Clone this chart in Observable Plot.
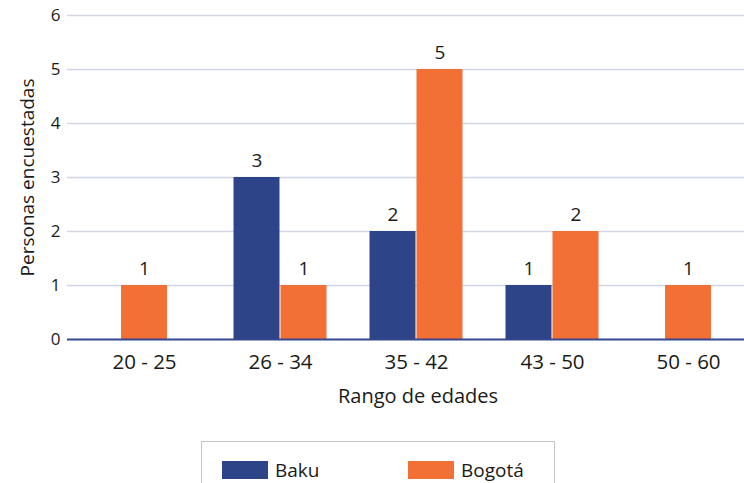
<!DOCTYPE html>
<html><head><meta charset="utf-8">
<script src="https://cdn.jsdelivr.net/npm/d3@7"></script>
<script src="https://cdn.jsdelivr.net/npm/@observablehq/plot@0.6"></script>
<style>
body{margin:0;background:#fff;font-family:"Open Sans",sans-serif;}
#chart{position:relative;width:744px;height:483px;overflow:hidden;}
#chart svg{display:block;}
.legend{position:absolute;left:201px;top:441px;width:354px;height:70px;border:1px solid #c4c4c4;box-sizing:border-box;}
.item{position:absolute;top:15px;display:flex;align-items:center;font-size:19px;color:#1a1a1a;}
.sw{width:46px;height:18px;margin-right:7px;}
</style>
</head><body>
<div id="chart"></div>
<script>
const ages = ["20 - 25", "26 - 34", "35 - 42", "43 - 50", "50 - 60"];
const series = ["Baku", "Bogotá"];
const bakuValues = [null, 3, 2, 1, null];
const bogotaValues = [1, 1, 5, 2, 1];
const colors = ["#2e4489", "#f26f35"];
const yTicks = [0, 1, 2, 3, 4, 5, 6];
const xTitle = "Rango de edades";
const yTitle = "Personas encuestadas";

const rows = [];
ages.forEach((age, i) => {
  const vals = [bakuValues[i], bogotaValues[i]];
  const present = vals.filter(v => v != null && v > 0).length;
  vals.forEach((v, j) => {
    if (v != null && v > 0) rows.push({age, series: series[j], value: v, solo: present === 1});
  });
});
const groupedBaku = rows.filter(d => !d.solo && d.series === "Baku");
const groupedBog = rows.filter(d => !d.solo && d.series === "Bogotá");
const solo = rows.filter(d => d.solo);

const W = 744, H = 441;
const xRange = [76, 756];
const step = (xRange[1] - xRange[0]) / ages.length;
const half = step / 2;
const bw = 46;

const fill = d => d.series;
const common = {x: "age", y: "value", fill};
const tstyle = {x: "age", y: "value", text: d => String(d.value), dy: -17, fontSize: 19, fill: "#1a1a1a"};

const chart = Plot.plot({
  width: W, height: H,
  marginLeft: 67, marginRight: 0, marginTop: 15, marginBottom: H - 339,
  style: {fontFamily: "Open Sans, sans-serif", background: "#fff", color: "#1a1a1a"},
  x: {domain: ages, range: xRange, padding: 0},
  y: {domain: [0, 6]},
  color: {domain: series, range: colors},
  marks: [
    Plot.ruleY(yTicks.filter(t => t > 0), {stroke: "#d2d5e8", strokeWidth: 1.6}),
    Plot.axisX({tickSize: 0, tickPadding: 15, fontSize: 20.5, label: null, fill: "#1a1a1a"}),
    Plot.axisY({ticks: yTicks, tickFormat: "d", tickSize: 0, tickPadding: 7, fontSize: 17, label: null, fill: "#1a1a1a"}),
    Plot.barY(groupedBaku, {...common, insetLeft: half - bw - 0.5, insetRight: half + 0.5}),
    Plot.barY(groupedBog, {...common, insetLeft: half + 0.5, insetRight: half - bw - 0.5}),
    Plot.barY(solo, {...common, insetLeft: half - bw / 2, insetRight: half - bw / 2}),
    Plot.ruleY([0], {stroke: "#34478f", strokeWidth: 2}),
    Plot.text(groupedBaku, {...tstyle, dx: -(bw / 2 + 0.5)}),
    Plot.text(groupedBog, {...tstyle, dx: bw / 2 + 0.5}),
    Plot.text(solo, {...tstyle}),
    Plot.text([xTitle], {frameAnchor: "bottom", lineAnchor: "middle", dx: 12, dy: 57, fontSize: 20, fill: "#1a1a1a"}),
    Plot.text([yTitle], {frameAnchor: "left", textAnchor: "middle", lineAnchor: "middle", rotate: -90, dx: -40, fontSize: 19, fill: "#1a1a1a"})
  ]
});
document.getElementById("chart").appendChild(chart);

const legend = document.createElement("div");
legend.className = "legend";
const lx = [20, 206];
series.forEach((s, i) => {
  const it = document.createElement("div");
  it.className = "item";
  it.style.left = lx[i] + "px";
  const sw = document.createElement("div");
  sw.className = "sw";
  sw.style.background = colors[i];
  const t = document.createElement("span");
  t.textContent = s;
  it.appendChild(sw); it.appendChild(t);
  legend.appendChild(it);
});
document.getElementById("chart").appendChild(legend);
</script>
</body></html>
